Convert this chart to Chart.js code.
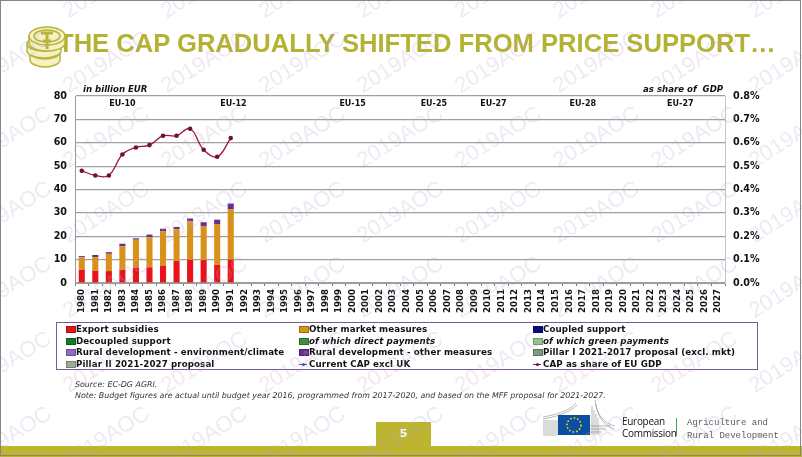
<!DOCTYPE html>
<html>
<head>
<meta charset="utf-8">
<title>CAP expenditure</title>
<script src="https://cdn.jsdelivr.net/npm/chart.js@4"></script>
<style>
  html, body { margin: 0; padding: 0; background: #fff; }
  #page { position: relative; width: 802px; height: 457px; overflow: hidden; font-family: "DejaVu Sans", sans-serif; color: #111; }
  #page > * { position: absolute; }
  #chart { left: 0; top: 0; }
  #frame { left: 0; top: 0; width: 799px; height: 454px; border: 1.5px solid #858585; pointer-events: none; }
  #title { left: 58px; top: 29px; font: bold 25.6px "Liberation Sans", sans-serif; color: #b4b233; white-space: nowrap; }
  #coins { left: 25px; top: 25px; }
  .axis-title { top: 84px; font-size: 8.6px; font-weight: bold; font-style: italic; white-space: nowrap; }
  #legend { left: 56px; top: 322px; width: 700px; height: 46px; border: 1.5px solid #7b5a94; }
  .lg { position: absolute; font-size: 8.7px; font-weight: bold; line-height: 12px; white-space: nowrap; letter-spacing: 0.1px; }
  .lg i { position: absolute; left: -10px; top: 3px; width: 8px; height: 5px; border: 0.5px solid rgba(0,0,0,.25); }
  .lg i.ln { height: 0; top: 6px; border: 0; border-top: 1px solid; background: none; }
  .lg i.ln::after { content: ''; position: absolute; left: 2.5px; top: -2px; width: 3px; height: 3px; border-radius: 50%; background: var(--dot); }
  #notes { left: 75px; top: 379px; font-size: 7.9px; font-style: italic; line-height: 11px; color: #333; white-space: nowrap; }
  #band { left: 0; top: 446px; width: 802px; height: 11px; background: #bdb52f; }
  #pageno { left: 376px; top: 422px; width: 55px; height: 24px; background: #bdb52f; color: #fff; font-weight: bold; font-size: 11px; line-height: 24px; text-align: center; }
  #logo { left: 540px; top: 400px; }
  #ec { left: 622px; top: 415px; font: 10px/12px "Open Sans", sans-serif; color: #111; letter-spacing: -0.3px; }
  #dg { left: 687px; top: 417px; font: 9px/13px "Liberation Mono", monospace; color: #5c5c5c; white-space: nowrap; }
  #ecbar { left: 676px; top: 418px; width: 1px; height: 18px; background: #3aa655; }
  .wm { font: 22px "Liberation Sans", sans-serif; color: rgba(190,165,205,.24); transform: translate(-50%, -50%) rotate(-32deg); white-space: nowrap; pointer-events: none; }
</style>
</head>
<body>
<div id="page">
  <canvas id="chart" width="802" height="457"></canvas>
  <div id="title">THE CAP GRADUALLY SHIFTED FROM PRICE SUPPORT…</div>
  <svg id="coins" width="44" height="44" viewBox="0 0 44 44">
    <g fill="#f4f2c4" stroke="#b9b438" stroke-width="1.5">
      <path d="M5 27 v8 c0 4 8 7 15 7 s15 -3 15 -7 v-8 z"/>
      <ellipse cx="20" cy="27" rx="15" ry="7"/>
      <path d="M2 19 v7 c0 4 9 7 17 7 s17 -3 17 -7 v-7 z"/>
      <ellipse cx="19" cy="19" rx="17" ry="7"/>
      <path d="M4 11 v7 c0 5 9 8 18 8 s18 -3 18 -8 v-7 z"/>
      <ellipse cx="22" cy="11" rx="18" ry="9"/>
      <ellipse cx="22" cy="11" rx="13" ry="6"/>
    </g>
    <path d="M16 8 h12 M22 8 v16 M18 16 h8" stroke="#b9b438" stroke-width="3" fill="none"/>
  </svg>
  <div class="axis-title" style="left:83px">in billion EUR</div>
  <div class="axis-title" style="left:643px">as share of&nbsp; GDP</div>
  <div id="legend"></div>
  <div id="notes">Source: EC-DG AGRI.<br>Note: Budget figures are actual until budget year 2016, programmed from 2017-2020, and based on the MFF proposal for 2021-2027.</div>
  <div id="band"></div>
  <div id="pageno">5</div>
  <svg id="logo" width="76" height="38" viewBox="0 0 76 38">
    <g stroke="#9a9a9a" stroke-width="0.7" fill="none">
      <path d="M3 17 C14 15 28 12 36 3 M3 19 C14 17 28 14 37 5 M3 21 H18 M3 23 H18 M3 25 H18 M3 27 H18 M3 29 H18 M3 31 H18 M3 33 H18 M3 35 H18"/>
      <path d="M55 0 C56 10 60 22 75 26 M56 4 C57 13 61 24 74 29 M50 26 H70 M50 29 H66 M50 32 H62 M52 6 V34 M54 10 V35 M56 14 V35 M58 18 V35"/>
    </g>
    <rect x="18" y="15" width="32" height="20" fill="#0b4ea2"/>
    <circle cx="34" cy="25" r="7" fill="none" stroke="#f5d90a" stroke-width="1.6" stroke-dasharray="1.6 2"/>
  </svg>
  <div id="ec">European<br>Commission</div>
  <div id="ecbar"></div>
  <div id="dg">Agriculture and<br>Rural Development</div>
</div>
<script>
const years = ['1980','1981','1982','1983','1984','1985','1986','1987','1988','1989','1990','1991','1992','1993','1994','1995','1996','1997','1998','1999','2000','2001','2002','2003','2004','2005','2006','2007','2008','2009','2010','2011','2012','2013','2014','2015','2016','2017','2018','2019','2020','2021','2022','2023','2024','2025','2026','2027'];

// values stop at 1991 in this build of the slide
const exportSubsidies = [5.7, 5.2, 5.1, 5.6, 6.6, 6.7, 7.4, 9.4, 9.9, 9.8, 7.8, 10];
const otherMarket = [5.3, 5.8, 7.4, 10.1, 11.9, 12.9, 14.8, 13.6, 16.5, 14.6, 17.4, 21.5];
const ruralOther = [0.5, 1, 0.7, 1.1, 0.6, 1.1, 1, 1, 1.2, 1.6, 1.9, 2.5];
const capShare = [0.48, 0.46, 0.46, 0.55, 0.58, 0.59, 0.63, 0.63, 0.66, 0.57, 0.54, 0.62];

const eraLabels = ['EU-10', 'EU-12', 'EU-15', 'EU-25', 'EU-27', 'EU-28', 'EU-27'];
const eraYears = [1983, 1991.2, 2000, 2006, 2010.4, 2017, 2024.2];

const tickFont = { family: '"DejaVu Sans"', size: 8.6, weight: 'bold' };

function bar(label, color, data) {
  return { type: 'bar', label: label, data: data, backgroundColor: color, yAxisID: 'y', stack: 'cap',
    barPercentage: 0.45, categoryPercentage: 1, order: 2 };
}

const datasets = [
  bar('Export subsidies', '#e8141c', exportSubsidies),
  bar('Other market measures', '#d8921c', otherMarket),
  bar('Coupled support', '#0b0b80', []),
  bar('Decoupled support', '#127a28', []),
  bar('of which direct payments', '#3d8f3d', []),
  bar('of which green payments', '#94c48c', []),
  bar('Rural development - environment/climate', '#8e6cc8', []),
  bar('Rural development - other measures', '#6a2c96', ruralOther),
  bar('Pillar I 2021-2017 proposal (excl. mkt)', '#7f9a80', []),
  bar('Pillar II 2021-2027 proposal', '#a0aa98', []),
  { type: 'line', label: 'Current CAP excl UK', data: [], borderColor: '#3a4fa8', backgroundColor: '#3a4fa8', yAxisID: 'y', order: 1 },
  { type: 'line', label: 'CAP as share of EU GDP', data: capShare, borderColor: '#a3123a', backgroundColor: '#6b1040',
    borderWidth: 1.3, pointRadius: 2.3, pointBorderWidth: 0, tension: 0.4, yAxisID: 'y1', order: 1 }
];

const eraPlugin = {
  id: 'eras',
  afterDatasetsDraw(chart) {
    const c = chart.ctx;
    c.save();
    c.font = 'bold 8px "DejaVu Sans"';
    c.fillStyle = '#111';
    c.textAlign = 'center';
    c.textBaseline = 'middle';
    eraLabels.forEach((t, i) => {
      const x = chart.scales.x.getPixelForValue(eraYears[i] - 1980);
      c.fillText(t, x, chart.scales.y.getPixelForValue(76.5));
    });
    c.restore();
  }
};

const chart = new Chart(document.getElementById('chart'), {
  data: { labels: years, datasets: datasets },
  plugins: [eraPlugin],
  options: {
    responsive: false,
    animation: false,
    layout: { padding: { top: 96, right: 0, bottom: 0, left: 0 } },
    plugins: { legend: { display: false }, tooltip: { enabled: false } },
    scales: {
      x: {
        stacked: true,
        grid: { offset: true, drawOnChartArea: false, color: '#777', tickLength: 3 },
        border: { color: '#999' },
        ticks: { color: '#111', font: tickFont, minRotation: 90, maxRotation: 90, autoSkip: false, padding: 3 },
        afterFit(s) { s.height = 174; }
      },
      y: {
        stacked: true,
        min: 0, max: 80,
        grid: { color: '#a0a0a0', lineWidth: 1.2, tickLength: 0 },
        border: { color: '#999' },
        ticks: { color: '#111', font: { ...tickFont, size: 9.6 }, stepSize: 10, padding: 8 },
        afterFit(s) { s.width = 75; }
      },
      y1: {
        position: 'right',
        min: 0, max: 0.8,
        grid: { drawOnChartArea: false, tickLength: 0 },
        border: { color: '#c4c4c4' },
        ticks: { color: '#111', font: { ...tickFont, size: 9.6 }, stepSize: 0.1, padding: 8, callback: v => v.toFixed(1) + '%' },
        afterFit(s) { s.width = 77; }
      }
    }
  }
});

// legend reads from the chart datasets, three columns in the order of the slide
const legendEl = document.getElementById('legend');
const colX = [19, 252, 486];
chart.data.datasets.forEach((ds, n) => {
  const el = document.createElement('div');
  el.className = 'lg';
  el.style.left = colX[n % 3] + 'px';
  el.style.top = (Math.floor(n / 3) * 11.7) + 'px';
  if (ds.label.startsWith('of which')) el.style.fontStyle = 'italic';
  const swatch = ds.type === 'line'
    ? '<i class="ln" style="border-color:' + ds.borderColor + ';--dot:' + ds.backgroundColor + '"></i>'
    : '<i style="background:' + ds.backgroundColor + '"></i>';
  el.innerHTML = swatch + ds.label;
  legendEl.appendChild(el);
});

const page = document.getElementById('page');
for (let y = -13; y < 480; y += 75) {
  for (let x = 8; x < 860; x += 98) {
    const w = document.createElement('div');
    w.className = 'wm';
    w.textContent = '2019AOC';
    w.style.left = x + 'px';
    w.style.top = y + 'px';
    page.appendChild(w);
  }
}
const frame = document.createElement('div');
frame.id = 'frame';
page.appendChild(frame);
</script>
</body>
</html>
